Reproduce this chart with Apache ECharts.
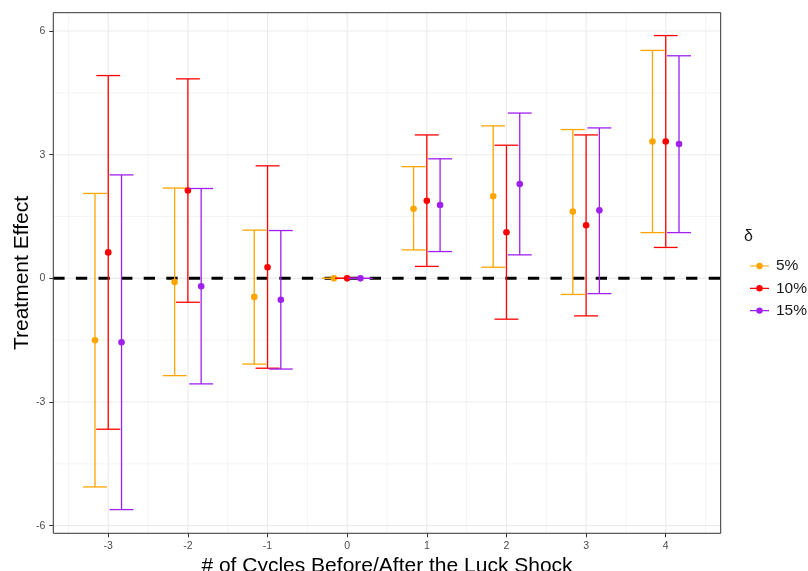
<!DOCTYPE html>
<html>
<head>
<meta charset="utf-8">
<script src="https://cdn.jsdelivr.net/npm/echarts@6/dist/echarts.min.js"></script>
<style>
html,body{margin:0;padding:0;background:#fff;}
#chart{width:808px;height:571px;}
</style>
</head>
<body>
<div id="chart"></div>
<script>
// ---- data ----
const cycles = [-3, -2, -1, 0, 1, 2, 3, 4];
const groups = ['5%', '10%', '15%'];

const est5  = [-1.50, -0.09, -0.45, 0.00, 1.69, 1.99, 1.62, 3.32];
const lo5   = [-5.06, -2.36, -2.08, 0.00, 0.69, 0.27, -0.39, 1.11];
const hi5   = [ 2.06,  2.19,  1.17, 0.00, 2.71, 3.70, 3.61, 5.53];

const est10 = [ 0.63,  2.13,  0.27, 0.00, 1.88, 1.12, 1.29, 3.32];
const lo10  = [-3.66, -0.58, -2.18, 0.00, 0.29, -0.99, -0.91, 0.75];
const hi10  = [ 4.92,  4.84,  2.73, 0.00, 3.48, 3.23, 3.48, 5.89];

const est15 = [-1.55, -0.19, -0.52, 0.00, 1.78, 2.29, 1.65, 3.26];
const lo15  = [-5.61, -2.56, -2.20, 0.00, 0.65, 0.57, -0.37, 1.11];
const hi15  = [ 2.51,  2.18,  1.16, 0.00, 2.90, 4.01, 3.65, 5.40];

const xTicks = [-3, -2, -1, 0, 1, 2, 3, 4];
const xMinor = [-3.5, -2.5, -1.5, -0.5, 0.5, 1.5, 2.5, 3.5, 4.5];
const yTicks = [-6, -3, 0, 3, 6];
const yMinor = [-4.5, -1.5, 1.5, 4.5];
const refLine = [0];

// ---- styling ----
const X_MIN = -3.69, X_MAX = 4.69, Y_MIN = -6.185, Y_MAX = 6.445;
const colors = ['#FFA500', '#FF0000', '#A020F0'];
const dodge = [-1/6, 0, 1/6];
const capWidth = 0.3;
const FONT = 'Liberation Sans, Arial, sans-serif';

const ests = [est5, est10, est15], los = [lo5, lo10, lo15], his = [hi5, hi10, hi15];

function groupData(g) {
  return cycles.map((c, i) => [c, los[g][i], his[g][i], ests[g][i]]);
}

const gridData = [];
xMinor.forEach(v => gridData.push(['x', v, 0.55]));
yMinor.forEach(v => gridData.push(['y', v, 0.55]));
xTicks.forEach(v => gridData.push(['x', v, 1.1]));
yTicks.forEach(v => gridData.push(['y', v, 1.1]));

const series = [];
series.push({
  type: 'custom', name: 'grid', silent: true, z: 1,
  data: gridData.map(d => [d[1], d[2], d[0] === 'x' ? 0 : 1]),
  renderItem: function (params, api) {
    const v = api.value(0), w = api.value(1), isY = api.value(2) === 1;
    let p1, p2;
    if (isY) { p1 = api.coord([X_MIN, v]); p2 = api.coord([X_MAX, v]); }
    else { p1 = api.coord([v, Y_MIN]); p2 = api.coord([v, Y_MAX]); }
    return { type: 'line', shape: { x1: p1[0], y1: p1[1], x2: p2[0], y2: p2[1] },
      style: { stroke: '#EBEBEB', lineWidth: w } };
  },
  encode: { x: 0, y: 1 }
});

series.push({
  type: 'custom', name: 'ref', silent: true, z: 2,
  data: refLine.map(v => [v]),
  renderItem: function (params, api) {
    const v = api.value(0);
    const p1 = api.coord([X_MIN, v]), p2 = api.coord([X_MAX, v]);
    return { type: 'line', shape: { x1: p1[0], y1: p1[1], x2: p2[0], y2: p2[1] },
      style: { stroke: '#000', lineWidth: 3, lineDash: [11.3, 11.3] } };
  },
  encode: { y: 0 }
});

groups.forEach((name, g) => {
  series.push({
    type: 'custom', name: name, z: 3 + g,
    itemStyle: { color: colors[g] },
    data: groupData(g),
    encode: { x: 0, y: [1, 2, 3] },
    renderItem: function (params, api) {
      const x = api.value(0) + dodge[g];
      const lo = api.coord([x, api.value(1)]);
      const hi = api.coord([x, api.value(2)]);
      const mid = api.coord([x, api.value(3)]);
      const half = api.size([capWidth, 0])[0] / 2;
      const st = { stroke: colors[g], lineWidth: 1.3 };
      return { type: 'group', children: [
        { type: 'line', shape: { x1: lo[0], y1: lo[1], x2: hi[0], y2: hi[1] }, style: st },
        { type: 'line', shape: { x1: lo[0] - half, y1: lo[1], x2: lo[0] + half, y2: lo[1] }, style: st },
        { type: 'line', shape: { x1: hi[0] - half, y1: hi[1], x2: hi[0] + half, y2: hi[1] }, style: st },
        { type: 'circle', shape: { cx: mid[0], cy: mid[1], r: 3.3 }, style: { fill: colors[g] }, z2: 10 }
      ]};
    }
  });
});

const legendIcon = 'path://M0,4.4 L19,4.4 L19,5.6 L0,5.6 Z M12.7,5 A3.2,3.2 0 1 1 6.3,5 A3.2,3.2 0 1 1 12.7,5 Z';

const chart = echarts.init(document.getElementById('chart'), null, { renderer: 'canvas' });
chart.setOption({
  animation: false,
  backgroundColor: '#fff',
  textStyle: { fontFamily: FONT },
  grid: { left: 53.3, top: 12.7, width: 667.4, height: 520.6, show: true,
    outerBoundsMode: 'none', containLabel: false,
    borderColor: '#333333', borderWidth: 1, backgroundColor: 'transparent', z: 10 },
  legend: {
    orient: 'vertical', left: 745, top: 253,
    itemWidth: 19, itemHeight: 6.4, itemGap: 6.3,
    data: groups.map((n, i) => ({ name: n, icon: legendIcon, itemStyle: { color: colors[i] } })),
    textStyle: { fontSize: 15.5, color: '#1a1a1a', fontFamily: FONT, padding: [0, 0, 0, 2] },
    selectedMode: false
  },
  graphic: [{
    type: 'text', left: 744, top: 228.5,
    style: { text: 'δ', fontSize: 16, fill: '#1a1a1a', fontFamily: FONT }
  }],
  xAxis: {
    type: 'value', min: X_MIN, max: X_MAX,
    name: '# of Cycles Before/After the Luck Shock', nameLocation: 'middle', nameGap: 17,
    nameTextStyle: { fontSize: 21, color: '#000', fontFamily: FONT },
    axisLine: { show: false, onZero: false },
    splitLine: { show: false },
    axisTick: { show: true, customValues: xTicks, length: 4, lineStyle: { color: '#333333', width: 1 } },
    axisLabel: { customValues: xTicks, color: '#4D4D4D', fontSize: 10.5, margin: 7, fontFamily: FONT }
  },
  yAxis: {
    type: 'value', min: Y_MIN, max: Y_MAX,
    name: 'Treatment Effect', nameLocation: 'middle', nameGap: 21, nameMoveOverlap: false,
    nameTextStyle: { fontSize: 21, color: '#000', fontFamily: FONT },
    axisLine: { show: false, onZero: false },
    splitLine: { show: false },
    axisTick: { show: true, customValues: yTicks, length: 4, lineStyle: { color: '#333333', width: 1 } },
    axisLabel: { customValues: yTicks, color: '#4D4D4D', fontSize: 10.5, margin: 8, fontFamily: FONT }
  },
  series: series
});
</script>
</body>
</html>
